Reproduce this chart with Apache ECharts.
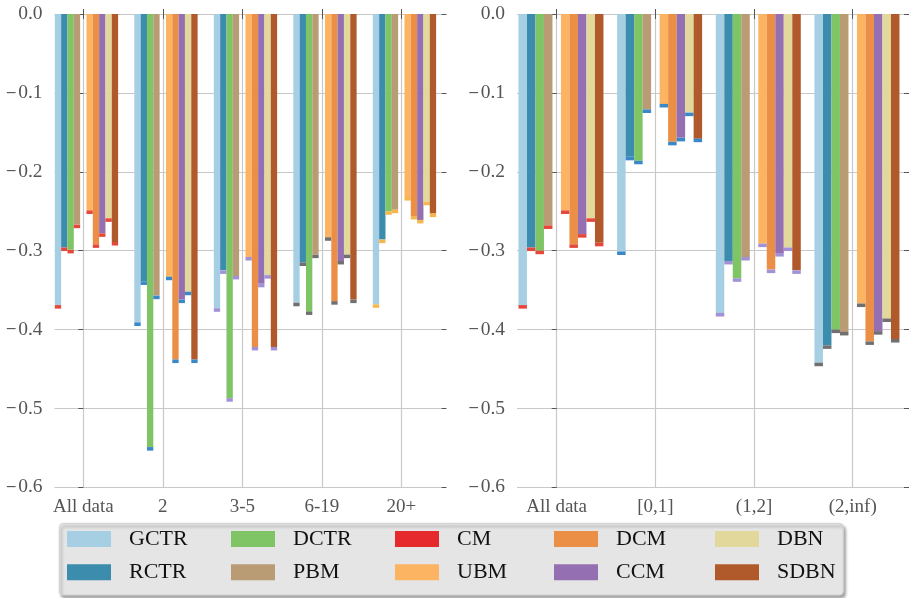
<!DOCTYPE html>
<html><head><meta charset="utf-8">
<script src="https://cdn.jsdelivr.net/npm/echarts@6/dist/echarts.min.js"></script>
<style>html,body{margin:0;padding:0;background:#fff}#c{width:915px;height:598px}</style>
</head><body><div id="c"></div>
<script>
// ---------------- data ----------------
const seriesNames = ['GCTR','RCTR','DCTR','PBM','CM','UBM','DCM','CCM','DBN','SDBN'];
const leftCategories = ['All data','2','3-5','6-19','20+'];
const rightCategories = ['All data','[0,1]','(1,2]','(2,inf)'];

const leftGCTR = [-0.369, -0.391, -0.373, -0.366, -0.368];
const leftRCTR = [-0.296, -0.339, -0.325, -0.315, -0.286];
const leftDCTR = [-0.299, -0.549, -0.487, -0.377, -0.250];
const leftPBM  = [-0.267, -0.357, -0.332, -0.305, -0.248];
const leftCM   = [null, null, null, null, null];
const leftUBM  = [-0.249, -0.333, -0.308, -0.283, -0.232];
const leftDCM  = [-0.292, -0.438, -0.422, -0.364, -0.256];
const leftCCM  = [-0.278, -0.362, -0.342, -0.313, -0.261];
const leftDBN  = [-0.259, -0.352, -0.331, -0.305, -0.238];
const leftSDBN = [-0.289, -0.438, -0.422, -0.362, -0.253];

const rightGCTR = [-0.369, -0.301, -0.379, -0.442];
const rightRCTR = [-0.296, -0.181, -0.313, -0.420];
const rightDCTR = [-0.300, -0.186, -0.335, -0.400];
const rightPBM  = [-0.268, -0.121, -0.308, -0.403];
const rightCM   = [null, null, null, null];
const rightUBM  = [-0.249, -0.114, -0.291, -0.367];
const rightDCM  = [-0.292, -0.162, -0.324, -0.415];
const rightCCM  = [-0.279, -0.157, -0.303, -0.402];
const rightDBN  = [-0.259, -0.125, -0.296, -0.386];
const rightSDBN = [-0.290, -0.158, -0.325, -0.412];

const yMin = -0.6, yMax = 0, yStep = 0.1;

// ---------------- styles ----------------
const seriesColors = ['#a6cfe3','#3b8cad','#7fc566','#b99b74','#e6292d','#fdb462','#ec8f46','#9470b3','#e2d89b','#b0592b'];
const capColors = ['#e4473b','#3a88c8','#a291d6','#707070','#f4b74c'];
const capDepth = 0.0045;
const FONT = '"Liberation Serif", "DejaVu Serif", serif';
const gridColor = '#c8c8c8';
const tickColor = '#555555';
const labelColor = '#555555';

const leftValues = {GCTR:leftGCTR,RCTR:leftRCTR,DCTR:leftDCTR,PBM:leftPBM,CM:leftCM,UBM:leftUBM,DCM:leftDCM,CCM:leftCCM,DBN:leftDBN,SDBN:leftSDBN};
const rightValues = {GCTR:rightGCTR,RCTR:rightRCTR,DCTR:rightDCTR,PBM:rightPBM,CM:rightCM,UBM:rightUBM,DCM:rightDCM,CCM:rightCCM,DBN:rightDBN,SDBN:rightSDBN};

const panels = [
  {cats: leftCategories, vals: leftValues, frameLeft: 54.5, frameWidth: 387, dataLeft: 43.55, dataWidth: 397.5, barWidth: 6.33},
  {cats: rightCategories, vals: rightValues, frameLeft: 517, frameWidth: 387, dataLeft: 507.37, dataWidth: 394.67, barWidth: 8.5}
];
const plotTop = 14, plotHeight = 473.3;

const grid = [], xAxis = [], yAxis = [], series = [];
const fmtY = v => (v < -1e-9 ? '{m|\u2212}' : '') + Math.abs(v).toFixed(1);

panels.forEach((p, pi) => {
  const fg = grid.length;
  grid.push({left: p.frameLeft, top: plotTop, width: p.frameWidth, height: plotHeight});
  const dg = grid.length;
  grid.push({left: p.dataLeft, top: plotTop, width: p.dataWidth, height: plotHeight});
  const band = p.dataWidth / p.cats.length;
  const c0 = p.dataLeft + band / 2;
  xAxis.push({type: 'value', gridIndex: fg, min: (p.frameLeft - c0) / band, max: (p.frameLeft + p.frameWidth - c0) / band,
    axisLine: {show: false}, axisTick: {show: false}, axisLabel: {show: false},
    splitLine: {show: true, showMinLine: false, showMaxLine: false, lineStyle: {color: gridColor, width: 1.2}}});
  const dxi = xAxis.length;
  xAxis.push({type: 'category', gridIndex: dg, data: p.cats, position: 'bottom',
    axisLine: {show: false},
    axisTick: {show: true, alignWithLabel: true, length: 5, lineStyle: {color: tickColor, width: 1}},
    axisLabel: {interval: 0, margin: 10.5, fontFamily: FONT, fontSize: 19, color: labelColor},
    splitLine: {show: false}});
  xAxis.push({type: 'category', gridIndex: dg, data: p.cats, position: 'top',
    axisLine: {show: false},
    axisTick: {show: true, alignWithLabel: true, length: 5, lineStyle: {color: tickColor, width: 1}},
    axisLabel: {show: false}, splitLine: {show: false}});
  yAxis.push({type: 'value', gridIndex: fg, min: yMin, max: yMax, interval: yStep, position: 'left',
    axisLine: {show: false},
    axisTick: {show: true, length: 5, lineStyle: {color: tickColor, width: 1}},
    axisLabel: {margin: 12, fontFamily: FONT, fontSize: 19.5, color: labelColor, formatter: fmtY,
      rich: {m: {fontFamily: '"DejaVu Serif", serif', fontSize: 14, color: labelColor, padding: [0, 1, 0, 0]}}},
    splitLine: {show: true, lineStyle: {color: gridColor, width: 1.2}}});
  yAxis.push({type: 'value', gridIndex: fg, min: yMin, max: yMax, interval: yStep, position: 'right',
    axisLine: {show: false},
    axisTick: {show: true, length: 5, lineStyle: {color: tickColor, width: 1}},
    axisLabel: {show: false}, splitLine: {show: false}});
  const dyi = yAxis.length;
  yAxis.push({type: 'value', gridIndex: dg, min: yMin, max: yMax, show: false});

  series.push({name: 'pad', type: 'bar', xAxisIndex: dxi, yAxisIndex: dyi, silent: true,
    barWidth: p.barWidth, barGap: '0%', data: p.cats.map(() => null)});
  seriesNames.forEach((nm, k) => {
    const v = p.vals[nm];
    const st = 'p' + pi + '_' + nm;
    series.push({name: nm, type: 'bar', stack: st, xAxisIndex: dxi, yAxisIndex: dyi,
      barWidth: p.barWidth, barGap: '0%', itemStyle: {color: seriesColors[k]}, data: v});
    series.push({name: nm + ' err', type: 'bar', stack: st, xAxisIndex: dxi, yAxisIndex: dyi,
      barWidth: p.barWidth, barGap: '0%', itemStyle: {color: seriesColors[k]},
      data: v.map((x, i) => x == null ? null : {value: -capDepth, itemStyle: {color: capColors[i]}})});
  });
});

// legend: 5 columns x 2 rows (column-major)
const legendCols = [67, 231, 395, 554, 715];
const legend = legendCols.map((x, c) => ({
  show: true, orient: 'vertical', left: x, top: 528, padding: 0,
  itemWidth: 44, itemHeight: 16, itemGap: 11.2, icon: 'rect', selectedMode: false, z: 10,
  data: [seriesNames[2 * c], seriesNames[2 * c + 1]],
  textStyle: {fontFamily: FONT, fontSize: 22, color: '#111111', lineHeight: 16, padding: [0, 0, 0, 13]}
}));

const chart = echarts.init(document.getElementById('c'));
chart.setOption({
  animation: false,
  backgroundColor: '#ffffff',
  grid, xAxis, yAxis, series, legend,
  graphic: [{type: 'rect', z: 1, shape: {x: 59.3, y: 523.3, width: 784, height: 71.7, r: 4},
    style: {fill: '#e5e5e5', stroke: '#d2d2d2', lineWidth: 1,
      shadowColor: 'rgba(0,0,0,0.35)', shadowBlur: 3, shadowOffsetX: 2, shadowOffsetY: 3}}]
});
</script></body></html>
